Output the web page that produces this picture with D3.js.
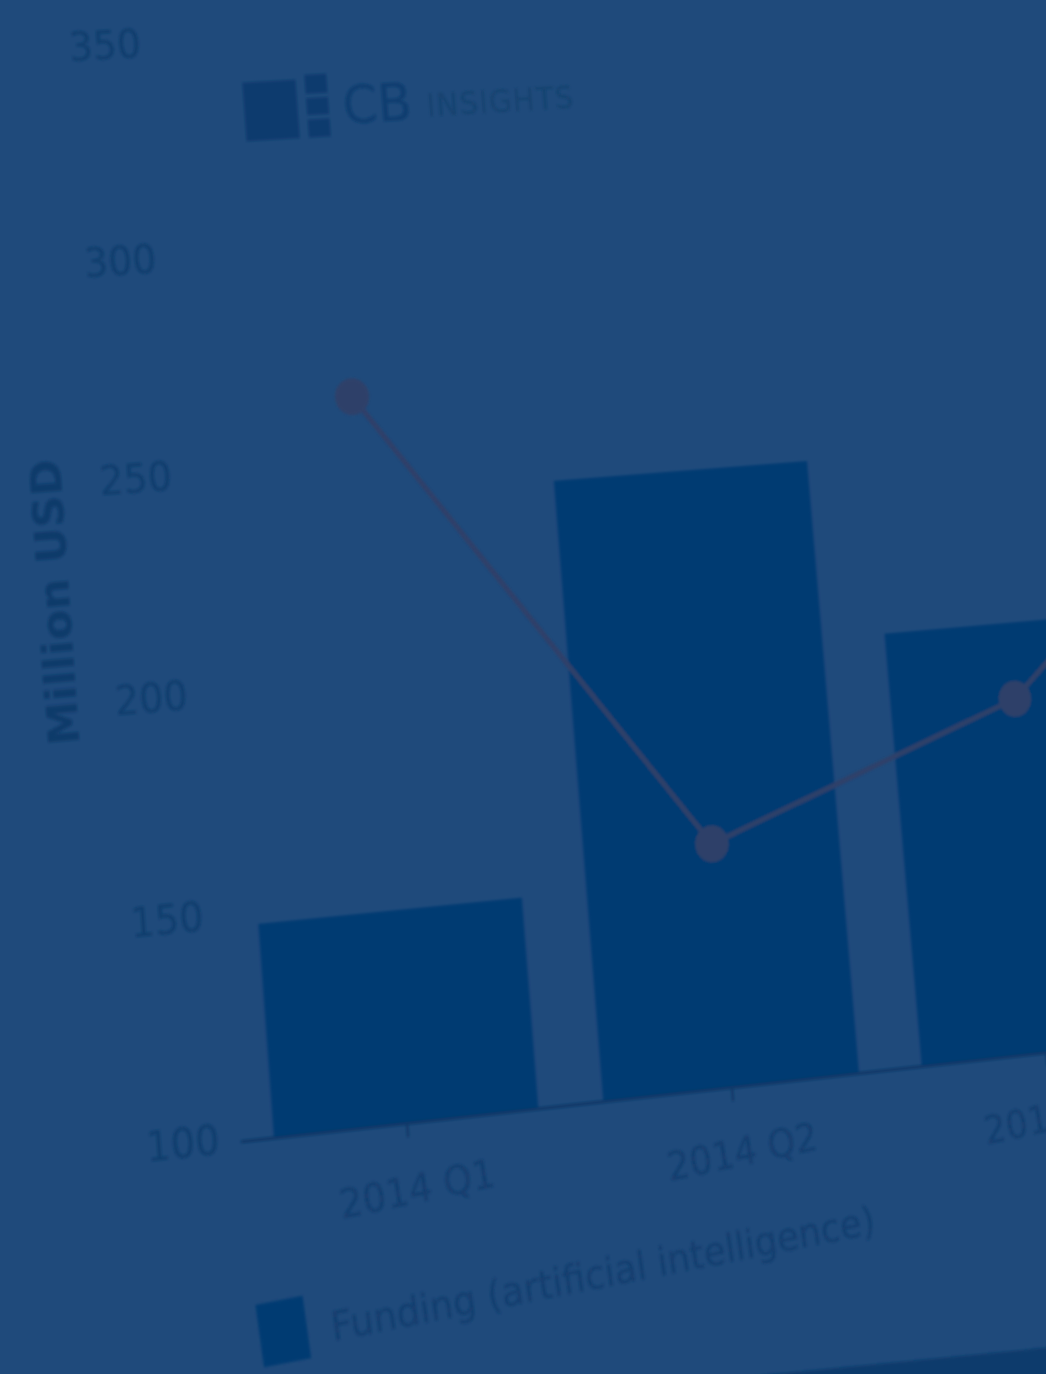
<!DOCTYPE html>
<html>
<head>
<meta charset="utf-8">
<script src="https://cdn.jsdelivr.net/npm/d3@7"></script>
<style>
  html, body { margin: 0; padding: 0; width: 1046px; height: 1374px; overflow: hidden; background: #1f4a7b; }
  #chart { position: absolute; left: 0; top: 0; width: 1400px; height: 1500px; transform-origin: 0 0; }
  #chart svg { display: block; overflow: visible; }
</style>
</head>
<body>
<div id="chart"></div>
<script>
// data (left axis units, million USD)
var categories = ["2014 Q1", "2014 Q2", "2014 Q3", "2014 Q4"];
var funding = [148, 243, 201, null];
var lineValues = [266, 156, 183, 252];
var yTicks = [100, 150, 200, 250, 300, 350];
var legendLabel = "Funding (artificial intelligence)";

var width = 1400, height = 1500;
var font = "'DejaVu Sans', Verdana, sans-serif";

var svg = d3.select("#chart").append("svg")
    .attr("width", width)
    .attr("height", height);

svg.append("defs").append("filter")
    .attr("id", "soft")
    .append("feGaussianBlur").attr("stdDeviation", 1.3);

var g = svg.append("g").attr("filter", "url(#soft)");

// flat chart scales
var y = d3.scaleLinear().domain([100, 350]).range([1100, 100]);
var x = d3.scaleBand().domain(categories)
    .range([155, 1455]).paddingInner(0.2).paddingOuter(0.1);
var bw = x.bandwidth();

// dark paper edge at bottom right
g.append("path")
    .attr("d", "M300,1354 L1400,1383 L1400,1500 L300,1500 Z")
    .style("fill", "#0b3a6c");

// bars
var barData = categories.map(function (c, i) { return { cat: c, v: funding[i] }; })
    .filter(function (d) { return d.v != null; });

g.selectAll("rect.bar")
    .data(barData)
    .enter().append("rect")
    .attr("class", "bar")
    .attr("x", function (d) { return x(d.cat); })
    .attr("y", function (d) { return y(d.v); })
    .attr("width", bw)
    .attr("height", function (d) { return y(100) - y(d.v); })
    .style("fill", "#043b72");

// x axis
var xAxis = g.append("g")
    .attr("transform", "translate(0," + y(100) + ")")
    .call(d3.axisBottom(x).tickSize(13).tickSizeOuter(0).tickPadding(34));
xAxis.select(".domain").style("stroke", "#0b3868").style("stroke-width", 3);
xAxis.selectAll(".tick line").style("stroke", "#0b3868").style("stroke-width", 2.5);
xAxis.selectAll(".tick text")
    .style("font-family", font).style("font-size", "36px")
    .style("fill", "#123d6e")
    .attr("transform", "rotate(-5)");

// y axis, labels only
var yAxis = g.append("g")
    .attr("transform", "translate(152,0)")
    .call(d3.axisLeft(y).tickValues(yTicks).tickSize(0).tickPadding(17));
yAxis.select(".domain").remove();
yAxis.selectAll(".tick text")
    .attr("dy", "0.22em")
    .style("font-family", font).style("font-size", "37px")
    .style("fill", "#113c6d");

g.append("text")
    .attr("transform", "translate(14,602) rotate(-90)")
    .attr("text-anchor", "middle")
    .attr("dominant-baseline", "central")
    .style("font-family", font).style("font-size", "40px").style("font-weight", "bold")
    .style("fill", "#0f3a6a")
    .text("Million USD");

// line series
var line = d3.line()
    .x(function (d, i) { return x(categories[i]) + bw / 2; })
    .y(function (d) { return y(d); });

g.append("path")
    .datum(lineValues)
    .attr("d", line)
    .style("fill", "none")
    .style("stroke", "#2e3f69")
    .style("stroke-width", 5);

g.selectAll("circle.pt")
    .data(lineValues)
    .enter().append("circle")
    .attr("class", "pt")
    .attr("cx", function (d, i) { return x(categories[i]) + bw / 2; })
    .attr("cy", function (d) { return y(d); })
    .attr("r", 17)
    .style("fill", "#2f4069");

// logo
var logo = g.append("g").attr("transform", "translate(232,138)");
logo.append("rect").attr("x", 0).attr("y", 0).attr("width", 53).attr("height", 55).style("fill", "#0a3b6e");
logo.append("rect").attr("x", 62).attr("y", -4).attr("width", 22).attr("height", 18).style("fill", "#0a3b6e");
logo.append("rect").attr("x", 62).attr("y", 18).attr("width", 22).attr("height", 16).style("fill", "#0a3b6e");
logo.append("rect").attr("x", 62).attr("y", 38).attr("width", 22).attr("height", 17).style("fill", "#0a3b6e");
logo.append("text").attr("x", 98).attr("y", 44)
    .style("font-family", font).style("font-size", "50px")
    .style("fill", "#0c3c6f").text("CB");
logo.append("text").attr("x", 182).attr("y", 42)
    .style("font-family", font).style("font-size", "30px").style("letter-spacing", "1px")
    .style("fill", "#15426f").text("INSIGHTS");

// legend
var legend = g.append("g").attr("transform", "translate(158,1246) rotate(-4)");
legend.append("rect").attr("width", 46).attr("height", 56).style("fill", "#043b72");
legend.append("text").attr("x", 69).attr("y", 45)
    .style("font-family", font).style("font-size", "36px")
    .style("fill", "#123d6e")
    .text(legendLabel);

// perspective of the photo: flat anchor points -> photo points
var src = [
    [100, y(350) - 5],
    [100, y(100) - 5],
    [x(categories[1]) + bw / 2, y(100)],
    [x(categories[1]) + bw, y(funding[1])]
];
var dst = [[105, 44], [183, 1142], [732, 1087], [807, 461]];

function solve(A, b) {
    var n = b.length;
    for (var i = 0; i < n; i++) {
        var p = i;
        for (var r = i + 1; r < n; r++) if (Math.abs(A[r][i]) > Math.abs(A[p][i])) p = r;
        var t = A[i]; A[i] = A[p]; A[p] = t;
        var tb = b[i]; b[i] = b[p]; b[p] = tb;
        for (var r2 = i + 1; r2 < n; r2++) {
            var f = A[r2][i] / A[i][i];
            for (var c = i; c < n; c++) A[r2][c] -= f * A[i][c];
            b[r2] -= f * b[i];
        }
    }
    var out = new Array(n);
    for (var k = n - 1; k >= 0; k--) {
        var s = b[k];
        for (var c2 = k + 1; c2 < n; c2++) s -= A[k][c2] * out[c2];
        out[k] = s / A[k][k];
    }
    return out;
}

var A = [], b = [];
src.forEach(function (p, i) {
    var X = dst[i][0], Y = dst[i][1];
    A.push([p[0], p[1], 1, 0, 0, 0, -p[0] * X, -p[1] * X]); b.push(X);
    A.push([0, 0, 0, p[0], p[1], 1, -p[0] * Y, -p[1] * Y]); b.push(Y);
});
var h = solve(A, b);

d3.select("#chart").style("transform",
    "matrix3d(" + [h[0], h[3], 0, h[6], h[1], h[4], 0, h[7], 0, 0, 1, 0, h[2], h[5], 0, 1].join(",") + ")");
</script>
</body>
</html>
